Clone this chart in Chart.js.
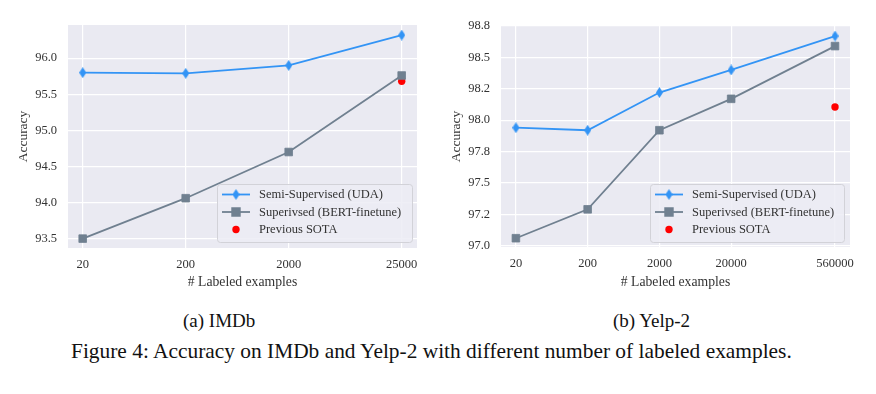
<!DOCTYPE html>
<html>
<head>
<meta charset="utf-8">
<script src="https://cdn.jsdelivr.net/npm/chart.js@4.4.0/dist/chart.umd.min.js"></script>
<style>
html,body{margin:0;padding:0;background:#fff;width:876px;height:394px;overflow:hidden;font-family:"Liberation Serif",serif;}
.wrap{position:absolute;top:0;width:438px;height:300px;}
.cap{position:absolute;color:#111;white-space:nowrap;line-height:1;}
</style>
</head>
<body>
<div class="wrap" style="left:0"><canvas id="imdb" width="438" height="300"></canvas></div>
<div class="wrap" style="left:438px"><canvas id="yelp" width="438" height="300"></canvas></div>
<div class="cap" style="left:183px;top:311px;font-size:19px">(a) IMDb</div>
<div class="cap" style="left:613px;top:311px;font-size:19px">(b) Yelp-2</div>
<div class="cap" style="left:71px;top:341px;font-size:21.4px">Figure 4: Accuracy on IMDb and Yelp-2 with different number of labeled examples.</div>
<script>
// ---------- data ----------
const seriesLabels = ['Semi-Supervised (UDA)', 'Superivsed (BERT-finetune)', 'Previous SOTA'];

const imdbExamples = [20, 200, 2000, 25000];
const imdbUDA = [95.80, 95.79, 95.90, 96.32];
const imdbBERT = [93.50, 94.06, 94.70, 95.76];
const imdbSotaExamples = [25000];
const imdbSota = [95.68];
const imdbXTicks = [20, 200, 2000, 25000];
const imdbXTickLabels = ['20', '200', '2000', '25000'];
const imdbYTicks = [93.5, 94.0, 94.5, 95.0, 95.5, 96.0];
const imdbYTickLabels = ['93.5', '94.0', '94.5', '95.0', '95.5', '96.0'];

const yelpExamples = [20, 200, 2000, 20000, 560000];
const yelpUDA = [97.94, 97.92, 98.22, 98.40, 98.67];
const yelpBERT = [97.06, 97.29, 97.92, 98.17, 98.59];
const yelpSotaExamples = [560000];
const yelpSota = [98.105];
const yelpXTicks = [20, 200, 2000, 20000, 560000];
const yelpXTickLabels = ['20', '200', '2000', '20000', '560000'];
const yelpYTicks = [97.0, 97.25, 97.5, 97.75, 98.0, 98.25, 98.5, 98.75];
const yelpYTickLabels = ['97.0', '97.2', '97.5', '97.8', '98.0', '98.2', '98.5', '98.8'];

// ---------- styles ----------
const BLUE = '#3394f5';
const GRAY = '#708090';
const RED = '#ff0000';
const TXT = '#333333';
const FONT = '"Liberation Serif", "Times New Roman", serif';

function makeDiamond(w, h, color) {
  const c = document.createElement('canvas');
  c.width = w; c.height = h;
  const g = c.getContext('2d');
  g.fillStyle = color;
  g.beginPath();
  g.moveTo(w / 2, 0); g.lineTo(w, h / 2); g.lineTo(w / 2, h); g.lineTo(0, h / 2);
  g.closePath(); g.fill();
  return c;
}
const diamond = makeDiamond(7, 11, BLUE);

const bgPlugin = {
  id: 'plotBg',
  beforeDraw(chart) {
    const {ctx, chartArea: a} = chart;
    ctx.save();
    ctx.fillStyle = '#eaeaf2';
    ctx.fillRect(a.left, a.top, a.right - a.left, a.bottom - a.top);
    ctx.restore();
  }
};

const legendPlugin = {
  id: 'boxLegend',
  afterDatasetsDraw(chart, args, opts) {
    const ctx = chart.ctx, a = chart.chartArea;
    const w = opts.width, h = 58;
    const x = a.right - opts.right - w, y = a.bottom - opts.bottom - h;
    ctx.save();
    ctx.beginPath();
    if (ctx.roundRect) ctx.roundRect(x + 0.5, y + 0.5, w, h, 3); else ctx.rect(x + 0.5, y + 0.5, w, h);
    ctx.fillStyle = 'rgba(236,236,244,0.85)';
    ctx.fill();
    ctx.strokeStyle = '#d2d2d8';
    ctx.lineWidth = 1;
    ctx.stroke();
    ctx.font = '12.5px ' + FONT;
    ctx.textBaseline = 'middle';
    chart.data.datasets.forEach((d, i) => {
      const cy = y + 10.5 + i * 17.5;
      if (d.showLine !== false) {
        ctx.strokeStyle = d.borderColor;
        ctx.lineWidth = d.borderWidth;
        ctx.beginPath(); ctx.moveTo(x + 5, cy); ctx.lineTo(x + 33, cy); ctx.stroke();
      }
      ctx.fillStyle = d.pointBackgroundColor;
      ctx.strokeStyle = d.pointBorderColor;
      Chart.helpers.drawPoint(ctx, {pointStyle: d.pointStyle, rotation: 0, radius: d.pointRadius, borderWidth: d.pointBorderWidth}, x + 19, cy);
      ctx.fillStyle = TXT;
      ctx.fillText(d.label, x + 42, cy + 0.5);
    });
    ctx.restore();
  }
};

function build(id, cfg) {
  const pts = (xs, ys) => xs.map((x, i) => ({x: x, y: ys[i]}));
  return new Chart(document.getElementById(id), {
    type: 'line',
    data: {
      datasets: [
        {label: seriesLabels[0], data: pts(cfg.xs, cfg.uda), borderColor: BLUE, borderWidth: 1.8,
         pointStyle: diamond, pointRadius: 5, pointBackgroundColor: BLUE, pointBorderColor: BLUE, pointBorderWidth: 0, tension: 0},
        {label: seriesLabels[1], data: pts(cfg.xs, cfg.bert), borderColor: GRAY, borderWidth: 1.8,
         pointStyle: 'rect', pointRadius: 5.4, pointBackgroundColor: GRAY, pointBorderColor: GRAY, pointBorderWidth: 0.8, tension: 0},
        {label: seriesLabels[2], data: pts(cfg.sx, cfg.sota), showLine: false, borderColor: RED,
         pointStyle: 'circle', pointRadius: 3.7, pointBackgroundColor: RED, pointBorderColor: RED, pointBorderWidth: 0}
      ]
    },
    options: {
      responsive: false,
      animation: false,
      layout: {padding: {left: 0, right: cfg.padRight, top: cfg.padTop, bottom: 0}},
      plugins: {legend: {display: false}, tooltip: {enabled: false}, boxLegend: cfg.legend},
      scales: {
        x: {
          type: 'logarithmic', min: cfg.xMin, max: cfg.xMax,
          afterBuildTicks: s => { s.ticks = cfg.xTicks.map(v => ({value: v})); },
          afterFit: s => { s.height = cfg.xAxisH; },
          ticks: {callback: (v, i) => cfg.xLabels[i], color: TXT, font: {family: FONT, size: 12.5}, padding: 9, autoSkip: false, maxRotation: 0},
          grid: {color: '#ffffff', lineWidth: 1.2, drawTicks: false},
          border: {display: false},
          title: {display: true, text: '# Labeled examples', color: TXT, font: {family: FONT, size: 13.7}, padding: {top: 0, bottom: 9.5}}
        },
        y: {
          min: cfg.yMin, max: cfg.yMax,
          afterBuildTicks: s => { s.ticks = cfg.yTicks.map(v => ({value: v})); },
          afterFit: s => { s.width = cfg.yAxisW; },
          ticks: {callback: (v, i) => cfg.yLabels[i], color: TXT, font: {family: FONT, size: 12.5}, padding: 11},
          grid: {color: '#ffffff', lineWidth: 1.2, drawTicks: false},
          border: {display: false},
          title: {display: true, text: 'Accuracy', color: TXT, font: {family: FONT, size: 13.5}, padding: {top: cfg.yTitlePad, bottom: 0}}
        }
      }
    },
    plugins: [bgPlugin, legendPlugin]
  });
}

build('imdb', {
  xs: imdbExamples, uda: imdbUDA, bert: imdbBERT, sx: imdbSotaExamples, sota: imdbSota,
  xTicks: imdbXTicks, xLabels: imdbXTickLabels, yTicks: imdbYTicks, yLabels: imdbYTickLabels,
  xMin: 14.4, xMax: 35200, yMin: 93.37, yMax: 96.46,
  padRight: 21, padTop: 25, xAxisH: 52, yAxisW: 68, yTitlePad: 15,
  legend: {width: 195, right: 5, bottom: 6}
});

build('yelp', {
  xs: yelpExamples, uda: yelpUDA, bert: yelpBERT, sx: yelpSotaExamples, sota: yelpSota,
  xTicks: yelpXTicks, xLabels: yelpXTickLabels, yTicks: yelpYTicks, yLabels: yelpYTickLabels,
  xMin: 12.4, xMax: 906000, yMin: 96.99, yMax: 98.75,
  padRight: 26, padTop: 26, xAxisH: 53, yAxisW: 63, yTitlePad: 10.5,
  legend: {width: 194, right: 6, bottom: 5}
});
</script>
</body>
</html>
